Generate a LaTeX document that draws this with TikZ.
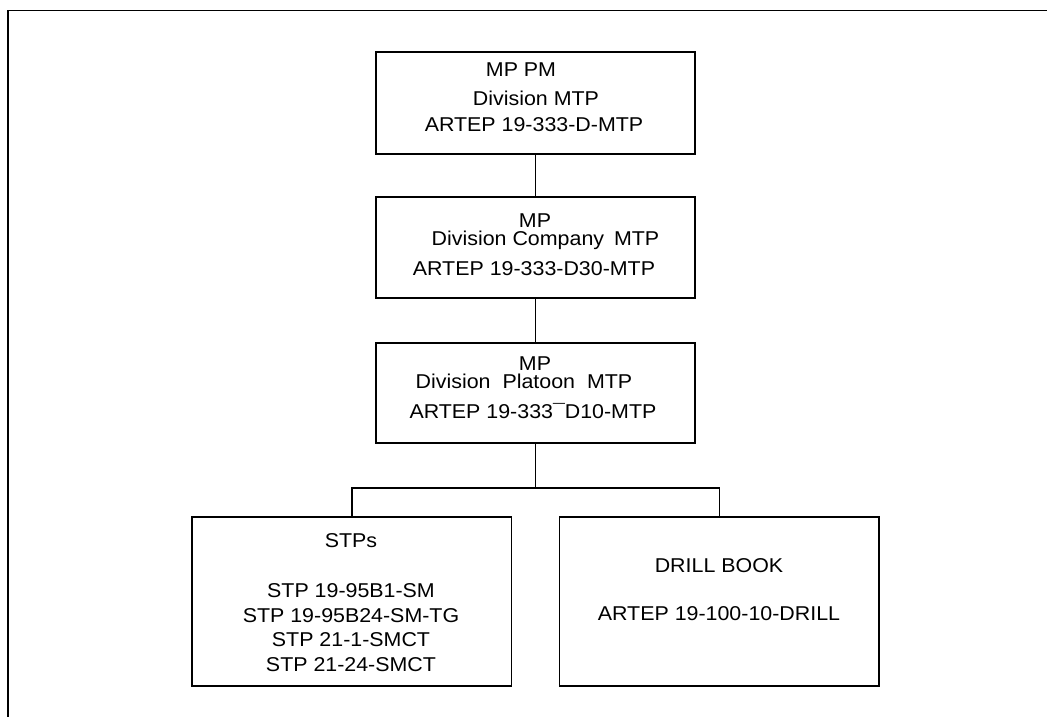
\documentclass[tikz,border=0pt]{standalone}
\usepackage{fontspec}
\setmainfont{Liberation Sans}[FakeStretch=1.07]
\begin{document}
\begin{tikzpicture}[x=1pt,y=-1pt,
  box/.style={draw, line width=1.6pt, rectangle, inner sep=0pt, minimum width=319pt},
  txt/.style={anchor=base, inner sep=0pt, font=\fontsize{20}{24}\selectfont},
  link/.style={line width=1.5pt}]
\useasboundingbox (0,0) rectangle (1047,717);
% outer frame (top and left only)
\draw[link] (8,717) -- (8,10.5) -- (1047,10.5);
% boxes
\node[box, minimum height=102pt] (b1) at (535.5,103) {};
\node[box, minimum height=101pt] (b2) at (535.5,247.5) {};
\node[box, minimum height=100pt] (b3) at (535.5,393) {};
\node[box, minimum width=319.5pt, minimum height=169pt] (b4) at (351.75,601.5) {};
\node[box, minimum width=319.5pt, minimum height=169pt] (b5) at (719.25,601.5) {};
% connectors
\coordinate (bus) at (535.5,488);
\draw[link] (b1.south) -- (b2.north);
\draw[link] (b2.south) -- (b3.north);
\draw[link] (b3.south) -- (bus);
\draw[link] (b4.north) |- (bus) -| (b5.north);
% texts box 1
\node[txt] (t1a) at (521,77) {MP PM};
\node[txt] (t1b) at (536,105) {Division MTP};
\node[txt] (t1c) at (534,131) {ARTEP 19-333-D-MTP};
% texts box 2
\node[txt] (t2a) at (535,227) {MP};
\node[txt] (t2b) at (545.5,245) {Division Company\hspace{4pt} MTP};
\node[txt] (t2c) at (534,275) {ARTEP 19-333-D30-MTP};
% texts box 3
\node[txt] (t3a) at (535,370.5) {MP};
\node[txt] (t3b) at (524,388.5) {Division\hspace{6pt} Platoon\hspace{6pt} MTP};
\node[txt] (t3c) at (533,418) {ARTEP 19-333¯D10-MTP};
% texts box 4
\node[txt] (t4a) at (351,547) {STPs};
\node[txt] (t4b) at (351,597) {STP 19-95B1-SM};
\node[txt] (t4c) at (351,622) {STP 19-95B24-SM-TG};
\node[txt] (t4d) at (351,646.5) {STP 21-1-SMCT};
\node[txt] (t4e) at (351,671.5) {STP 21-24-SMCT};
% texts box 5
\node[txt] (t5a) at (719,572) {DRILL BOOK};
\node[txt] (t5b) at (719,620) {ARTEP 19-100-10-DRILL};
\end{tikzpicture}
\end{document}
